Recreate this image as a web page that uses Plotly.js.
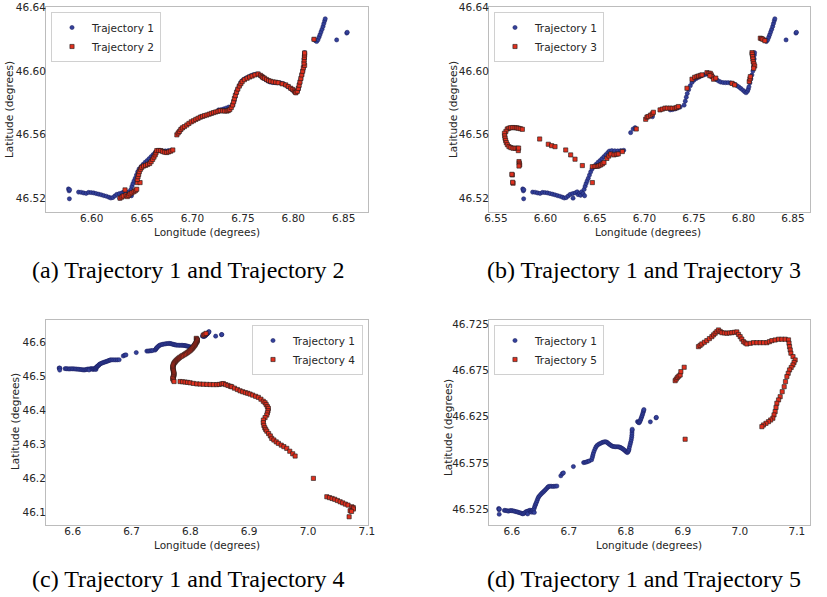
<!DOCTYPE html>
<html>
<head>
<meta charset="utf-8">
<script src="https://cdn.plot.ly/plotly-3.0.1.min.js"></script>
<style>html,body{margin:0;padding:0;background:#fff;}#chart{width:827px;height:597px;}</style>
</head>
<body>
<div id="chart"></div>
<script>
// ---- data: [longitude, latitude] pairs ----
const traj1 = [
[6.5770,46.5258],[6.5776,46.5246],[6.5781,46.5253],[6.5779,46.5196],
[6.5870,46.5238],[6.5895,46.5237],[6.5920,46.5233],[6.5945,46.5230],[6.5970,46.5236],[6.5995,46.5235],[6.6020,46.5233],[6.6045,46.5229],[6.6070,46.5225],[6.6095,46.5221],[6.6120,46.5216],[6.6145,46.5212],[6.6170,46.5206],[6.6190,46.5201],[6.6210,46.5204],[6.6230,46.5214],[6.6250,46.5224],[6.6275,46.5229],[6.6300,46.5233],[6.6320,46.5240],[6.6278,46.5200],[6.6330,46.5222],[6.6345,46.5230],[6.6355,46.5218],[6.6365,46.5240],[6.6380,46.5228],[6.6395,46.5215],[6.6390,46.5255],[6.6400,46.5275],[6.6410,46.5292],[6.6420,46.5308],[6.6432,46.5325],[6.6444,46.5345],[6.6456,46.5365],[6.6470,46.5383],[6.6490,46.5398],[6.6510,46.5412],[6.6530,46.5425],[6.6550,46.5436],[6.6570,46.5448],[6.6590,46.5461],[6.6610,46.5474],[6.6630,46.5487],[6.6645,46.5496],[6.6670,46.5499],[6.6700,46.5498],[6.6730,46.5497],[6.6760,46.5499],[6.6790,46.5501],
[6.6860,46.5612],[6.6885,46.5635],[6.6905,46.5643],
[6.7080,46.5712],
[6.7260,46.5755],[6.7285,46.5757],[6.7310,46.5761],[6.7335,46.5767],[6.7360,46.5773],
[6.7400,46.5785],[6.7412,46.5810],[6.7422,46.5835],[6.7432,46.5858],[6.7446,46.5882],[6.7463,46.5907],[6.7480,46.5928],[6.7500,46.5942],[6.7525,46.5953],[6.7550,46.5961],[6.7575,46.5969],[6.7600,46.5975],[6.7625,46.5979],[6.7650,46.5980],[6.7670,46.5973],[6.7690,46.5963],[6.7710,46.5953],[6.7730,46.5944],[6.7750,46.5936],[6.7770,46.5930],[6.7795,46.5927],[6.7820,46.5926],[6.7845,46.5926],[6.7870,46.5925],[6.7892,46.5921],[6.7912,46.5916],[6.7932,46.5908],[6.7952,46.5900],[6.7972,46.5890],[6.7992,46.5880],[6.8010,46.5870],[6.8026,46.5863],[6.8040,46.5872],[6.8048,46.5885],[6.8055,46.5900],[6.8065,46.5925],[6.8075,46.5950],[6.8085,46.5975],[6.8095,46.6000],[6.8102,46.6025],[6.8106,46.6050],[6.8108,46.6075],[6.8110,46.6100],[6.8112,46.6115],
[6.8205,46.6198],[6.8220,46.6190],[6.8232,46.6185],[6.8245,46.6196],[6.8255,46.6212],[6.8265,46.6228],[6.8275,46.6245],[6.8285,46.6262],[6.8295,46.6280],[6.8303,46.6298],[6.8311,46.6315],[6.8317,46.6328],
[6.8430,46.6195],[6.8530,46.6238],[6.8535,46.6243]
];
const traj2 = [
[6.6281,46.5200],[6.6300,46.5207],[6.6314,46.5214],[6.6331,46.5252],[6.6341,46.5220],[6.6354,46.5210],[6.6368,46.5218],[6.6381,46.5227],[6.6400,46.5234],[6.6420,46.5241],[6.6435,46.5248],[6.6447,46.5256],[6.6453,46.5298],[6.6480,46.5298],[6.6453,46.5318],[6.6460,46.5335],[6.6466,46.5350],[6.6473,46.5367],[6.6485,46.5382],[6.6497,46.5394],[6.6515,46.5402],[6.6535,46.5406],[6.6555,46.5412],[6.6575,46.5418],[6.6590,46.5430],[6.6605,46.5444],[6.6618,46.5458],[6.6630,46.5472],[6.6638,46.5485],[6.6646,46.5499],[6.6665,46.5500],[6.6685,46.5499],[6.6705,46.5493],[6.6725,46.5489],[6.6745,46.5487],[6.6765,46.5491],[6.6785,46.5496],[6.6805,46.5503],
[6.6845,46.5598],[6.6858,46.5610],[6.6871,46.5620],[6.6885,46.5632],[6.6900,46.5642],[6.6920,46.5650],[6.6944,46.5660],[6.6965,46.5670],[6.6988,46.5680],[6.7010,46.5687],[6.7033,46.5695],[6.7055,46.5702],[6.7077,46.5709],[6.7100,46.5714],[6.7120,46.5719],[6.7143,46.5723],[6.7165,46.5728],[6.7187,46.5733],[6.7209,46.5738],[6.7231,46.5742],[6.7253,46.5746],[6.7275,46.5750],[6.7300,46.5749],[6.7320,46.5748],[6.7342,46.5748],
[6.7355,46.5751],[6.7370,46.5757],[6.7385,46.5770],[6.7398,46.5786],[6.7408,46.5806],[6.7416,46.5826],[6.7425,46.5845],[6.7437,46.5866],[6.7450,46.5886],[6.7465,46.5905],[6.7480,46.5920],[6.7493,46.5933],[6.7515,46.5945],[6.7542,46.5954],[6.7567,46.5962],[6.7592,46.5968],[6.7620,46.5975],[6.7651,46.5981],
[6.7675,46.5972],[6.7690,46.5964],[6.7700,46.5958],[6.7715,46.5954],[6.7735,46.5946],[6.7755,46.5939],[6.7775,46.5935],[6.7800,46.5931],[6.7825,46.5929],[6.7850,46.5926],[6.7890,46.5919],[6.7925,46.5912],[6.7950,46.5902],[6.7975,46.5891],[6.7995,46.5883],[6.8010,46.5874],[6.8020,46.5867],[6.8026,46.5863],
[6.8040,46.5872],[6.8050,46.5890],[6.8058,46.5910],[6.8066,46.5930],[6.8075,46.5952],[6.8084,46.5975],[6.8093,46.5998],[6.8100,46.6020],[6.8112,46.6035],[6.8106,46.6050],[6.8108,46.6069],[6.8110,46.6085],[6.8112,46.6100],[6.8112,46.6113],
[6.8205,46.6199]
];
const traj3 = [
[6.5614,46.5635],[6.5630,46.5640],[6.5648,46.5643],[6.5670,46.5644],[6.5692,46.5643],[6.5710,46.5642],[6.5725,46.5640],[6.5745,46.5637],[6.5766,46.5633],
[6.5600,46.5620],[6.5585,46.5608],[6.5588,46.5592],[6.5591,46.5577],[6.5597,46.5563],[6.5604,46.5549],[6.5615,46.5536],[6.5631,46.5524],[6.5650,46.5518],[6.5672,46.5514],[6.5693,46.5514],[6.5715,46.5514],[6.5725,46.5499],[6.5728,46.5515],
[6.5732,46.5430],[6.5735,46.5420],[6.5739,46.5409],[6.5732,46.5402],
[6.5665,46.5346],[6.5660,46.5350],[6.5672,46.5294],[6.5668,46.5300],
[6.5941,46.5572],[6.6028,46.5539],[6.6062,46.5530],[6.6096,46.5524],[6.6204,46.5503],[6.6254,46.5472],[6.6298,46.5445],[6.6372,46.5405],[6.6473,46.5298],
[6.6473,46.5398],[6.6500,46.5400],[6.6523,46.5400],[6.6540,46.5404],[6.6558,46.5409],[6.6575,46.5416],[6.6591,46.5424],[6.6620,46.5450],[6.6640,46.5465],[6.6659,46.5478],[6.6692,46.5472],[6.6715,46.5476],[6.6735,46.5478],[6.6776,46.5493],
[6.6917,46.5635],
[6.7012,46.5696],[6.7025,46.5710],[6.7038,46.5713],[6.7060,46.5722],[6.7079,46.5730],[6.7090,46.5740],
[6.7157,46.5755],[6.7180,46.5760],[6.7207,46.5766],[6.7230,46.5766],[6.7258,46.5766],[6.7280,46.5765],[6.7308,46.5766],[6.7325,46.5770],[6.7342,46.5776],
[6.7429,46.5891],
[6.7480,46.5948],[6.7507,46.5960],[6.7530,46.5965],[6.7547,46.5968],[6.7565,46.5972],[6.7581,46.5975],
[6.7631,46.5989],[6.7650,46.5985],[6.7665,46.5985],[6.7675,46.5975],[6.7682,46.5964],[6.7698,46.5948],[6.7660,46.5970],[6.7720,46.5955],
[6.7884,46.5922],[6.7911,46.5912],
[6.8058,46.5933],[6.8065,46.5950],[6.8069,46.5964],
[6.8086,46.6115],[6.8088,46.6105],[6.8092,46.6090],[6.8095,46.6075],[6.8098,46.6058],[6.8105,46.6045],[6.8113,46.6031],[6.8103,46.6017],
[6.8170,46.6206],[6.8183,46.6203],[6.8196,46.6199],[6.8216,46.6190]
];
const traj4 = [
[6.8221,46.6226],[6.8245,46.6250],[6.8267,46.6276],
[6.8100,46.6130],[6.8110,46.6105],[6.8120,46.6080],[6.8115,46.6050],[6.8105,46.6020],[6.8095,46.5990],[6.8085,46.5960],[6.8075,46.5930],[6.8062,46.5900],[6.8048,46.5870],[6.8035,46.5840],[6.8018,46.5810],[6.8000,46.5780],[6.7980,46.5752],[6.7960,46.5725],[6.7940,46.5700],[6.7918,46.5675],[6.7895,46.5650],[6.7870,46.5625],[6.7845,46.5600],[6.7820,46.5570],[6.7798,46.5540],[6.7778,46.5510],[6.7760,46.5480],[6.7745,46.5450],[6.7732,46.5420],[6.7720,46.5390],[6.7712,46.5355],[6.7705,46.5320],[6.7701,46.5285],[6.7703,46.5250],[6.7708,46.5215],[6.7712,46.5180],[6.7716,46.5145],[6.7720,46.5110],[6.7723,46.5075],[6.7720,46.5040],[6.7712,46.5005],[6.7705,46.4970],[6.7701,46.4940],[6.7712,46.4900],[6.7723,46.4860],
[6.7825,46.4860],[6.7867,46.4853],[6.7910,46.4845],[6.7952,46.4835],[6.7995,46.4824],[6.8050,46.4805],[6.8109,46.4790],[6.8165,46.4785],[6.8222,46.4780],[6.8280,46.4775],[6.8336,46.4772],[6.8392,46.4770],[6.8449,46.4770],[6.8490,46.4775],[6.8534,46.4790],[6.8561,46.4800],[6.8600,46.4770],[6.8640,46.4745],[6.8680,46.4720],[6.8704,46.4706],[6.8750,46.4665],[6.8800,46.4625],[6.8845,46.4588],[6.8890,46.4560],[6.8935,46.4535],[6.8975,46.4515],[6.9015,46.4491],[6.9060,46.4460],[6.9110,46.4425],[6.9156,46.4394],[6.9200,46.4340],[6.9240,46.4280],[6.9270,46.4235],[6.9290,46.4180],[6.9310,46.4120],[6.9327,46.4070],[6.9320,46.4000],[6.9310,46.3940],[6.9299,46.3874],[6.9270,46.3800],[6.9242,46.3726],[6.9240,46.3650],[6.9250,46.3570],[6.9265,46.3500],[6.9280,46.3450],[6.9300,46.3400],[6.9330,46.3330],[6.9360,46.3260],[6.9384,46.3188],[6.9420,46.3140],[6.9460,46.3085],[6.9497,46.3041],[6.9545,46.2990],[6.9590,46.2945],[6.9639,46.2894],[6.9690,46.2810],[6.9740,46.2735],[6.9781,46.2668],
[7.0092,46.2012],
[7.0320,46.1471],[7.0365,46.1445],[7.0410,46.1420],[7.0455,46.1395],[7.0500,46.1360],[7.0546,46.1324],[7.0590,46.1290],[7.0635,46.1255],[7.0680,46.1225],[7.0745,46.1176],[7.0770,46.1150],[7.0772,46.1110],[7.0716,46.1060],[7.0740,46.1040],[7.0699,46.0882]
];
const traj5 = [
[6.8865,46.6640],[6.8885,46.6658],[6.8906,46.6676],[6.8930,46.6690],[6.8953,46.6702],[6.8965,46.6738],[6.9023,46.6785],
[6.9040,46.6007],
[6.9274,46.7008],[6.9303,46.7022],[6.9333,46.7037],[6.9377,46.7055],[6.9421,46.7073],[6.9465,46.7095],[6.9509,46.7116],[6.9538,46.7135],[6.9567,46.7153],[6.9596,46.7170],[6.9625,46.7188],[6.9655,46.7172],[6.9684,46.7159],[6.9728,46.7156],[6.9772,46.7153],[6.9816,46.7156],[6.9860,46.7159],[6.9904,46.7163],[6.9947,46.7167],[6.9976,46.7140],[7.0005,46.7116],[7.0034,46.7090],[7.0063,46.7062],[7.0093,46.7048],[7.0123,46.7037],[7.0182,46.7044],[7.0240,46.7051],[7.0298,46.7051],[7.0356,46.7051],[7.0415,46.7051],[7.0474,46.7051],[7.0518,46.7062],[7.0561,46.7073],[7.0619,46.7080],[7.0677,46.7088],[7.0736,46.7088],[7.0795,46.7088],[7.0853,46.7081],[7.0862,46.7045],[7.0871,46.7008],[7.0883,46.6972],[7.0895,46.6937],[7.0932,46.6900],[7.0970,46.6864],[7.0950,46.6837],[7.0930,46.6810],[7.0900,46.6783],[7.0871,46.6756],[7.0848,46.6720],[7.0825,46.6684],[7.0800,46.6630],[7.0777,46.6575],[7.0742,46.6521],[7.0707,46.6467],[7.0678,46.6432],[7.0649,46.6396],[7.0634,46.6351],[7.0619,46.6306],[7.0599,46.6270],[7.0579,46.6234],[7.0540,46.6215],[7.0502,46.6197],[7.0458,46.6179],[7.0414,46.6161],[7.0386,46.6143]
];
const otherTrajs = [traj2, traj3, traj4, traj5];
const otherNames = ['Trajectory 2', 'Trajectory 3', 'Trajectory 4', 'Trajectory 5'];
const captions = ['(a) Trajectory 1 and Trajectory 2', '(b) Trajectory 1 and Trajectory 3',
                  '(c) Trajectory 1 and Trajectory 4', '(d) Trajectory 1 and Trajectory 5'];
const xTitle = 'Longitude (degrees)';
const yTitle = 'Latitude (degrees)';

// ---- layout geometry (pixels) ----
const W = 827, H = 597;
const panels = [
  {l:46,  r:368, t:7,   b:212, xr:[6.5547,6.8741], yr:[46.5113,46.6402], xt0:6.60, xdt:0.05, xf:'.2f', yt0:46.52, ydt:0.04, yf:'.2f',
   leg:{x:51, y:12, anchor:'left'},  cap:{x:188, y:270}, xt:{x:207, y:232}, yt:{x:9, y:110}},
  {l:489, r:810, t:7,   b:212, xr:[6.5429,6.8672], yr:[46.5113,46.6402], xt0:6.55, xdt:0.05, xf:'.2f', yt0:46.52, ydt:0.04, yf:'.2f',
   leg:{x:494, y:12, anchor:'left'}, cap:{x:644, y:270}, xt:{x:648, y:232}, yt:{x:453, y:110}},
  {l:46,  r:368, t:320, b:525, xr:[6.5546,7.1020], yr:[46.0640,46.6670], xt0:6.6, xdt:0.1, xf:'.1f', yt0:46.1, ydt:0.1, yf:'.1f',
   leg:{x:363, y:325, anchor:'right'}, cap:{x:188, y:579}, xt:{x:207, y:545}, yt:{x:15, y:422}},
  {l:489, r:810, t:320, b:525, xr:[6.5600,7.1230], yr:[46.5080,46.7296], xt0:6.6, xdt:0.1, xf:'.1f', yt0:46.525, ydt:0.05, yf:'.3f',
   leg:{x:494, y:325, anchor:'left'}, cap:{x:644, y:579}, xt:{x:649, y:545}, yt:{x:448, y:428}}
];

const blue = {fill:'#33419a', edge:'#16185a'};
const red  = {fill:'#e0301e', edge:'#1a1a1a'};
const txt = '#262626';

const data = [];
const layout = {
  width: W, height: H,
  margin: {l:0, r:0, t:0, b:0},
  paper_bgcolor: '#ffffff', plot_bgcolor: '#ffffff',
  font: {family: 'DejaVu Sans', size: 10.5, color: txt},
  showlegend: true,
  annotations: []
};

panels.forEach((p, i) => {
  const k = i === 0 ? '' : String(i + 1);
  const legName = 'legend' + k;
  data.push({
    type: 'scatter', mode: 'markers', name: 'Trajectory 1',
    x: traj1.map(d => d[0]), y: traj1.map(d => d[1]),
    xaxis: 'x' + k, yaxis: 'y' + k, legend: legName,
    marker: {symbol: 'circle', size: 4.2, color: blue.fill, line: {color: blue.edge, width: 0.5}}
  });
  const t = otherTrajs[i];
  data.push({
    type: 'scatter', mode: 'markers', name: otherNames[i],
    x: t.map(d => d[0]), y: t.map(d => d[1]),
    xaxis: 'x' + k, yaxis: 'y' + k, legend: legName,
    marker: {symbol: 'square', size: 4.2, color: red.fill, line: {color: red.edge, width: 0.6}}
  });
  const common = {showline: true, mirror: true, linecolor: '#bcbcbc', linewidth: 1,
                  showgrid: false, zeroline: false, ticks: '', automargin: false,
                  tickfont: {size: 10.5, color: txt}};
  layout['xaxis' + k] = Object.assign({}, common, {
    domain: [p.l / W, p.r / W], range: p.xr, anchor: 'y' + k,
    tick0: p.xt0, dtick: p.xdt, tickformat: p.xf, ticklabelstandoff: -4
  });
  layout['yaxis' + k] = Object.assign({}, common, {
    domain: [1 - p.b / H, 1 - p.t / H], range: p.yr, anchor: 'x' + k,
    tick0: p.yt0, dtick: p.ydt, tickformat: p.yf, ticklabelstandoff: -3
  });
  layout[legName] = {
    x: p.leg.x / W, y: 1 - p.leg.y / H, xref: 'paper', yref: 'paper',
    xanchor: p.leg.anchor, yanchor: 'top',
    bgcolor: 'rgba(255,255,255,0.9)', bordercolor: '#d0d0d0', borderwidth: 1,
    font: {size: 10.5, color: txt}, itemwidth: 30, tracegroupgap: 0
  };
  layout.annotations.push({
    text: xTitle, xref: 'paper', yref: 'paper',
    x: p.xt.x / W, y: 1 - p.xt.y / H, xanchor: 'center', yanchor: 'middle',
    showarrow: false, font: {size: 10.5, color: txt}
  });
  layout.annotations.push({
    text: yTitle, xref: 'paper', yref: 'paper', textangle: -90,
    x: p.yt.x / W, y: 1 - p.yt.y / H, xanchor: 'center', yanchor: 'middle',
    showarrow: false, font: {size: 10.5, color: txt}
  });
  layout.annotations.push({
    text: captions[i], xref: 'paper', yref: 'paper',
    x: p.cap.x / W, y: 1 - p.cap.y / H, xanchor: 'center', yanchor: 'middle',
    showarrow: false, font: {family: 'Liberation Serif', size: 24, color: '#000000'}
  });
});

Plotly.newPlot('chart', data, layout, {displayModeBar: false, staticPlot: true});
</script>
</body>
</html>
